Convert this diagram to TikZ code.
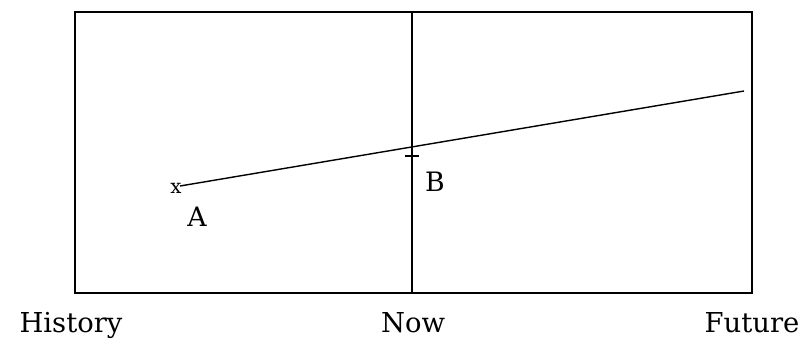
\documentclass[tikz,border=0pt]{standalone}
\usepackage{fontspec}
\setmainfont{DejaVu Serif}
\usetikzlibrary{positioning, calc}
\tikzset{
  frame/.style  = {draw, line width=1.3pt},
  trend/.style  = {draw, line width=1.0pt},
  axislbl/.style = {font=\fontsize{19.5}{23}\selectfont, inner sep=0pt, anchor=base},
  ptlbl/.style  = {font=\fontsize{19}{22}\selectfont, inner sep=0pt},
}

\begin{document}
\begin{tikzpicture}[x=0.025cm, y=-0.025cm]

    \useasboundingbox (0,0) rectangle (802,344);

    %% Frame and the present
    \draw[frame] (75,12) rectangle (752,293);
    \coordinate (nowtop) at (412,12);
    \coordinate (nowbot) at (412,293);
    \draw[frame] (nowtop) -- (nowbot);

    %% Trend line
    \coordinate (ptA) at (180,186);
    \coordinate (ptEnd) at (744,91);
    \draw[trend] (ptA) -- (ptEnd);
    \coordinate (ptB) at (412,149);
    \coordinate (tickB) at (412,156);
    \draw[line width=1.6pt] (ptB) -- (tickB);
    \draw[line width=1.6pt] ($(tickB)+(-7,0)$) -- ($(tickB)+(7,0)$);

    %% Point labels
    \node[font=\fontsize{14}{16}\selectfont, inner sep=0pt] (markA) at (176,188) {x};
    \node[ptlbl] (lblA) at (197,217) {A};
    \node[ptlbl] (lblB) at (435,182) {B};

    %% Time labels
    \node[axislbl] (hist) at (71,332) {History};
    \node[axislbl] (now)  at (413,332) {Now};
    \node[axislbl] (fut)  at (752,332) {Future};

  \end{tikzpicture}
\end{document}
